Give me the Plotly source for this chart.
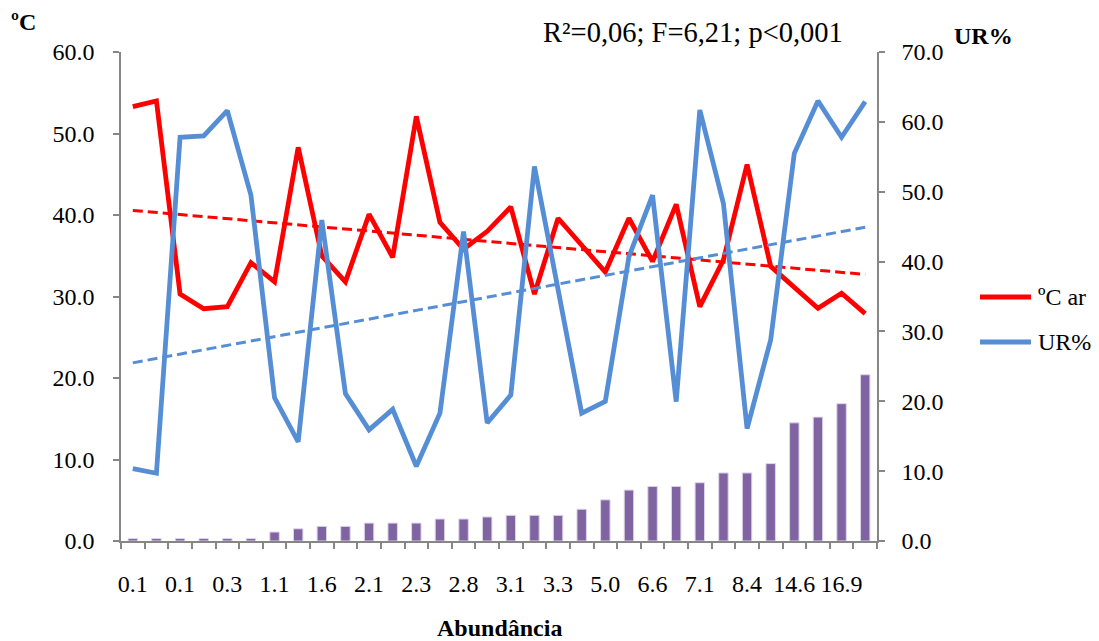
import numpy as np
import plotly.graph_objects as go

# ---- data ----
x_labels = ["0.1", "0.1", "0.3", "1.1", "1.6", "2.1", "2.3", "2.8",
            "3.1", "3.3", "5.0", "6.6", "7.1", "8.4", "14.6", "16.9"]
abundancia = [0.3, 0.3, 0.3, 0.3, 0.3, 0.3, 1.1, 1.5, 1.8, 1.8, 2.2, 2.2, 2.2, 2.7, 2.7, 2.95,
              3.15, 3.15, 3.15, 3.9, 5.05, 6.25, 6.7, 6.7, 7.15, 8.35, 8.35, 9.5, 14.5, 15.2, 16.85, 20.4]
temp_ar = [53.3, 54.0, 30.3, 28.5, 28.75, 34.15, 31.8, 48.3, 35.0, 31.8, 40.1, 34.8, 52.1, 39.1, 35.8, 38.0,
           41.0, 30.3, 39.6, 36.3, 33.0, 39.6, 34.3, 41.3, 28.75, 34.5, 46.2, 33.7, 31.2, 28.55, 30.4, 27.9]
ur = [10.35, 9.7, 57.8, 58.0, 61.6, 49.5, 20.5, 14.2, 45.95, 21.1, 15.9, 18.85, 10.7, 18.3, 44.3, 16.9,
      20.9, 53.6, 36.0, 18.3, 20.0, 40.7, 49.5, 19.95, 61.7, 48.3, 16.1, 28.8, 55.5, 63.0, 57.8, 62.9]

n = len(abundancia)
xpos = np.arange(n)
xs = xpos + 1  # Excel trendline uses 1..n
t_fit = np.polyval(np.polyfit(xs, temp_ar, 1), xs)
u_fit = np.polyval(np.polyfit(xs, ur, 1), xs)

RED = "#FF0000"
BLUE = "#558ED5"
PURPLE = "#8064A2"
AXIS = "#868686"
FONT = "Liberation Serif"

fig = go.Figure()
fig.add_trace(go.Bar(x=xpos, y=abundancia, width=0.4, marker=dict(color=PURPLE, line=dict(color="#ddd5ea", width=1)),
                     yaxis="y", showlegend=False, name="Abundância"))
fig.add_trace(go.Scatter(x=xpos, y=temp_ar, mode="lines", line=dict(color=RED, width=4.8), yaxis="y",
                         showlegend=False, name="ºC ar"))
fig.add_trace(go.Scatter(x=xpos, y=t_fit, mode="lines", line=dict(color=RED, width=3, dash="10px,5px"), yaxis="y",
                         showlegend=False, hoverinfo="skip"))
fig.add_trace(go.Scatter(x=xpos, y=ur, mode="lines", line=dict(color=BLUE, width=4.8), yaxis="y2",
                         showlegend=False, name="UR%"))
fig.add_trace(go.Scatter(x=xpos, y=u_fit, mode="lines", line=dict(color=BLUE, width=3, dash="10px,5px"), yaxis="y2",
                         showlegend=False, hoverinfo="skip"))

L, R, T, B = 121, 222, 52, 100
W, H = 1099, 641
pw, ph = W - L - R, H - T - B

def px(xp):
    return (xp - L) / pw

def py(yp):
    return (H - B - yp) / ph

fig.update_layout(
    width=W, height=H, margin=dict(l=L, r=R, t=T, b=B),
    paper_bgcolor="white", plot_bgcolor="white",
    font=dict(family=FONT, size=24, color="black"),
    xaxis=dict(range=[-0.5, n - 0.5], tickmode="array", tickvals=list(range(0, n, 2)), ticktext=x_labels,
               ticks="", showline=True, linecolor=AXIS, linewidth=1.5, showgrid=False, zeroline=False,
               ticklabelstandoff=20, tickfont=dict(family=FONT, size=24),
               minor=dict(tickmode="array", tickvals=[i - 0.5 for i in range(n + 1)], ticks="outside",
                          ticklen=6, tickcolor=AXIS, tickwidth=1.5, showgrid=False)),
    yaxis=dict(range=[0, 60], dtick=10, tickformat=".1f", ticks="outside", ticklen=6, tickcolor=AXIS,
               tickwidth=1.5, showline=True, linecolor=AXIS, linewidth=1.5, showgrid=False, zeroline=False,
               ticklabelstandoff=14, tickfont=dict(family=FONT, size=24)),
    yaxis2=dict(range=[0, 70], dtick=10, tickformat=".1f", ticks="outside", ticklen=6, tickcolor=AXIS,
                tickwidth=1.5, showline=True, linecolor=AXIS, linewidth=1.5, showgrid=False, zeroline=False,
                overlaying="y", side="right", ticklabelstandoff=12, tickfont=dict(family=FONT, size=24)),
    showlegend=False,
)

ann = [
    dict(text="<b>ºC</b>", x=px(23), y=py(22), size=24),
    dict(text="<b>UR%</b>", x=px(983), y=py(36), size=24),
    dict(text="R²=0,06; F=6,21; p<0,001", x=px(693), y=py(33), size=28.5),
    dict(text="<b>Abundância</b>", x=px(499), y=py(628), size=24),
]
for a in ann:
    fig.add_annotation(text=a["text"], x=a["x"], y=a["y"], xref="paper", yref="paper", showarrow=False,
                       xanchor="center", yanchor="middle", font=dict(family=FONT, size=a["size"], color="black"))

# legend
for label, color, yp in [("ºC ar", RED, 297), ("UR%", BLUE, 342)]:
    fig.add_shape(type="line", xref="paper", yref="paper", x0=px(980), x1=px(1031), y0=py(yp), y1=py(yp),
                  line=dict(color=color, width=4.8))
    fig.add_annotation(text=label, x=px(1036), y=py(yp), xref="paper", yref="paper", showarrow=False,
                       xanchor="left", yanchor="middle", font=dict(family=FONT, size=24, color="black"))

fig.write_html("out.html")
